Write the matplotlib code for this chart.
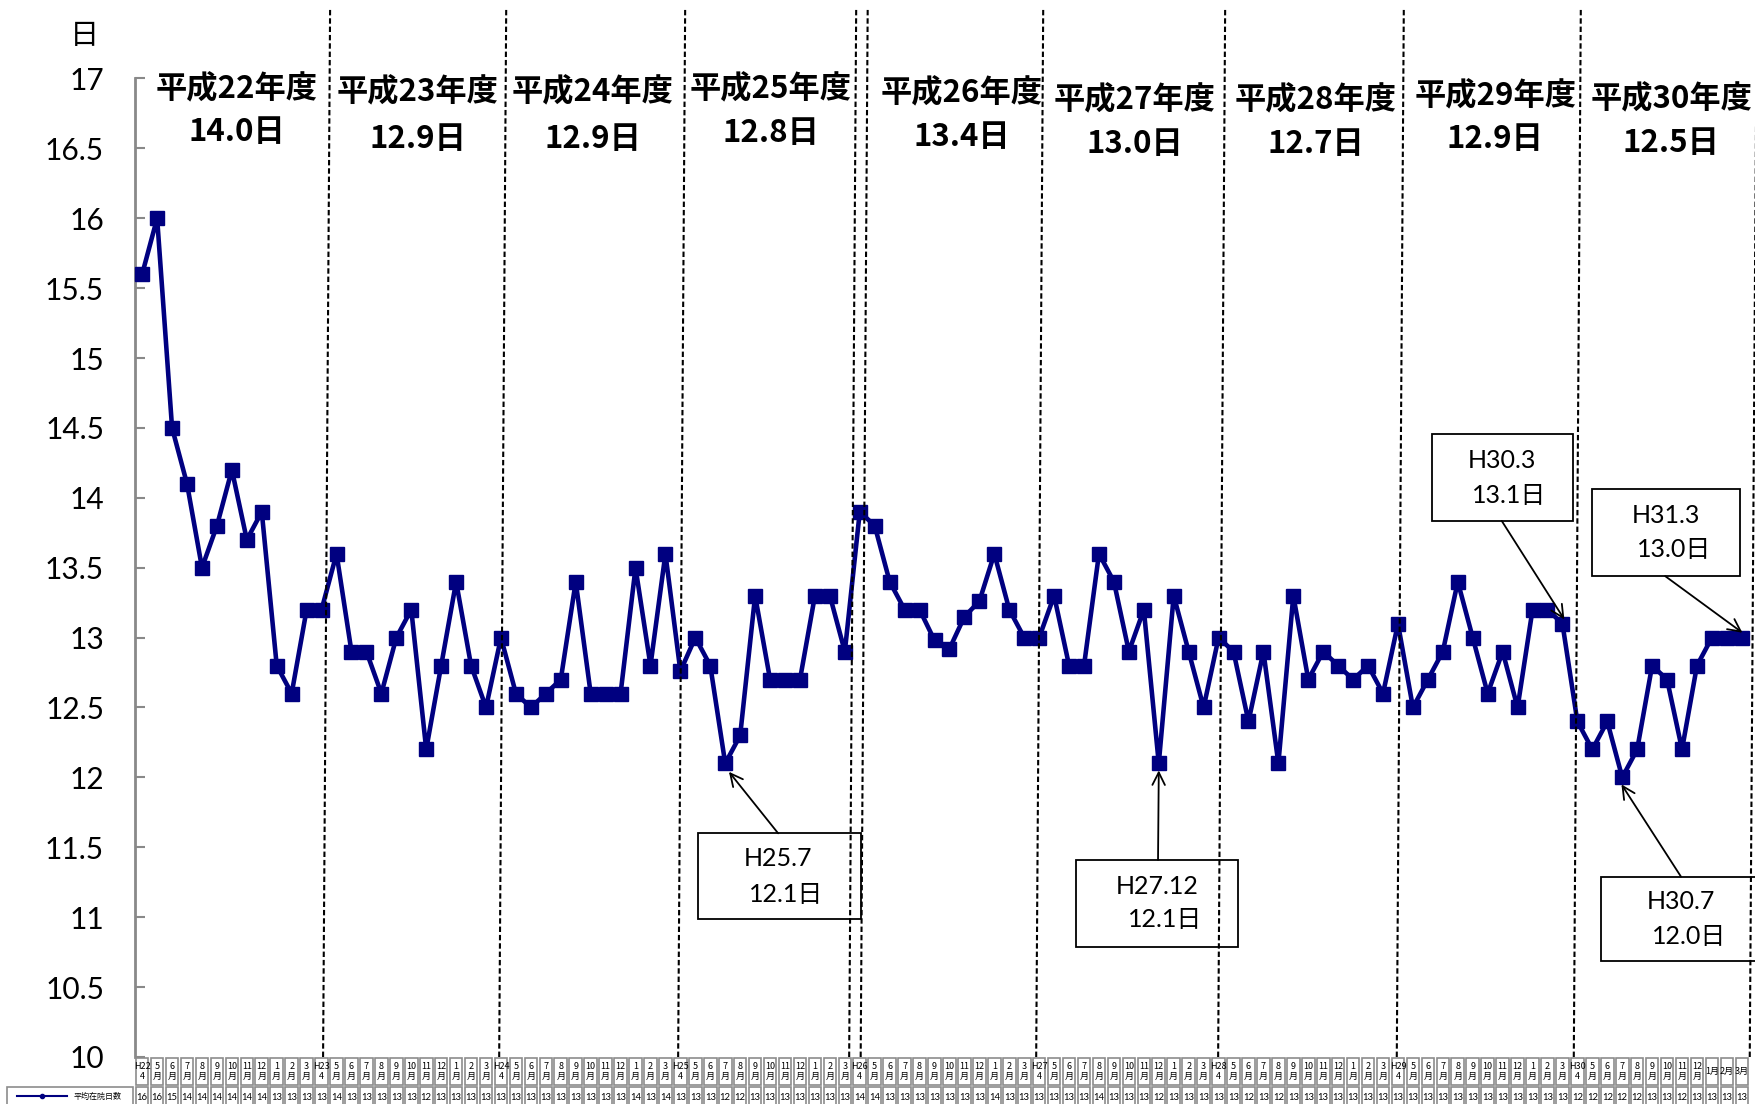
import matplotlib
matplotlib.use("Agg")
import matplotlib.pyplot as plt
from matplotlib.patches import Rectangle
import numpy as np

# ---------------- data ----------------
fiscal_years = ["H22", "H23", "H24", "H25", "H26", "H27", "H28", "H29", "H30"]
fy_titles = ["平成22年度", "平成23年度", "平成24年度", "平成25年度", "平成26年度",
             "平成27年度", "平成28年度", "平成29年度", "平成30年度"]
fy_average = [14.0, 12.9, 12.9, 12.8, 13.4, 13.0, 12.7, 12.9, 12.5]

h22 = [15.6, 16.0, 14.5, 14.1, 13.5, 13.8, 14.2, 13.7, 13.9, 12.8, 12.6, 13.2]
h23 = [13.2, 13.6, 12.9, 12.9, 12.6, 13.0, 13.2, 12.2, 12.8, 13.4, 12.8, 12.5]
h24 = [13.0, 12.6, 12.5, 12.6, 12.7, 13.4, 12.6, 12.6, 12.6, 13.5, 12.8, 13.6]
h25 = [12.76, 13.0, 12.8, 12.1, 12.3, 13.3, 12.7, 12.7, 12.7, 13.3, 13.3, 12.9]
h26 = [13.9, 13.8, 13.4, 13.2, 13.2, 12.98, 12.92, 13.15, 13.26, 13.6, 13.2, 13.0]
h27 = [13.0, 13.3, 12.8, 12.8, 13.6, 13.4, 12.9, 13.2, 12.1, 13.3, 12.9, 12.5]
h28 = [13.0, 12.9, 12.4, 12.9, 12.1, 13.3, 12.7, 12.9, 12.8, 12.7, 12.8, 12.6]
h29 = [13.1, 12.5, 12.7, 12.9, 13.4, 13.0, 12.6, 12.9, 12.5, 13.2, 13.2, 13.1]
h30 = [12.4, 12.2, 12.4, 12.0, 12.2, 12.8, 12.7, 12.2, 12.8, 13.0, 13.0, 13.0]
monthly_values = h22 + h23 + h24 + h25 + h26 + h27 + h28 + h29 + h30

months_after_april = ["5", "6", "7", "8", "9", "10", "11", "12", "1", "2", "3"]
series_name = "平均在院日数"
unit_label = "日"

annotations = [  # (label line 1, label line 2, month index, value)
    ("H25.7", "12.1日", 39, 12.1),
    ("H27.12", "12.1日", 68, 12.1),
    ("H30.3", "13.1日", 95, 13.1),
    ("H31.3", "13.0日", 107, 13.0),
    ("H30.7", "12.0日", 99, 12.0),
]

# header labels for the table below the chart
header_labels = []
for k, fy in enumerate(fiscal_years):
    header_labels.append(fy + "\n4")
    for m in months_after_april:
        if k == len(fiscal_years) - 1 and m in ("1", "2", "3"):
            header_labels.append(m + "月")
        else:
            header_labels.append(m + "\n月")

# ---------------- layout ----------------
W_PX, H_PX = 1756, 1104
JP = ["Noto Sans CJK JP", "DejaVu Sans"]
NUM = ["Lato", "Noto Sans CJK JP", "DejaVu Sans"]
NAVY = "#000080"

fig = plt.figure(figsize=(W_PX / 100, H_PX / 100), dpi=100)
ax_left_px, ax_right_px = 134.7, 1749.3
ax_top_px, ax_bot_px = 78.4, 1057.0
L = ax_left_px / W_PX
Wd = (ax_right_px - ax_left_px) / W_PX
B = (H_PX - ax_bot_px) / H_PX
Ht = (ax_bot_px - ax_top_px) / H_PX
ax = fig.add_axes([L, B, Wd, Ht])

n = len(monthly_values)
x = np.arange(n)
ax.set_xlim(-0.5, n - 0.5)
ax.set_ylim(10, 17)

ax.plot(x, monthly_values, color=NAVY, lw=3.3, marker="s", ms=10.5,
        mfc=NAVY, mec=NAVY, zorder=4, clip_on=False)

yt = np.arange(10, 17.01, 0.5)
ax.set_yticks(yt)
ax.set_yticklabels([f"{v:g}" for v in yt], fontfamily=NUM)
ax.tick_params(axis="y", direction="in", length=7.5, width=1.5,
               color="#898989", labelsize=21.5, pad=22)
ax.set_xticks([])
for s in ("top", "right", "bottom"):
    ax.spines[s].set_visible(False)
ax.spines["left"].set_color("#898989")
ax.spines["left"].set_linewidth(2)

# fiscal-year boundary dashed lines (slightly slanted, as drawn shapes)
boundary_pos = [12.29, 24.07, 36.04, 47.48, 48.25, 59.99, 72.16, 84.11, 95.95, 107.72]
for bpos in boundary_pos:
    ax.plot([bpos - 0.19, bpos + 0.28], [10, 17.5], color="black", lw=1.5,
            dashes=(2.6, 1.4), clip_on=False, zorder=6)

# fiscal-year titles
title_x = [6.34, 18.45, 30.15, 42.06, 54.83, 66.4, 78.5, 90.5, 102.27]
title_y1 = [16.92, 16.90, 16.90, 16.92, 16.89, 16.84, 16.84, 16.87, 16.85]
title_y2 = [16.62, 16.57, 16.57, 16.61, 16.58, 16.53, 16.53, 16.57, 16.54]
for t, a, tx, y1, y2 in zip(fy_titles, fy_average, title_x, title_y1, title_y2):
    ax.text(tx, y1, t, ha="center", va="center", fontsize=22.5,
            fontweight="bold", fontfamily=JP, clip_on=False, zorder=7)
    ax.text(tx, y2, f"{a:.1f}日", ha="center", va="center", fontsize=22.5,
            fontweight="bold", fontfamily=JP, clip_on=False, zorder=7)

# annotation boxes: (x0, x1, v_bottom, v_top, text1 pos, text2 pos, arrow start, arrow tip offset)
box_geom = [
    (37.19, 48.07, 10.99, 11.60, (42.5, 11.42), (43.1, 11.16), (42.54, 11.60), (0.25, -0.06)),
    (62.46, 73.30, 10.79, 11.41, (67.9, 11.22), (68.4, 10.98), (67.95, 11.41), (0.0, -0.05)),
    (86.27, 95.70, 13.835, 14.457, (90.94, 14.27), (91.46, 14.02), (90.94, 13.835), (0.13, 0.03)),
    (97.00, 106.90, 13.44, 14.06, (101.95, 13.87), (102.46, 13.63), (101.87, 13.44), (0.04, 0.035)),
    (97.60, 108.30, 10.69, 11.29, (102.93, 11.11), (103.5, 10.86), (102.93, 11.29), (-0.05, -0.05)),
]
for (t1, t2, mi, mv), (x0, x1, vb, vt, p1, p2, ps, off) in zip(annotations, box_geom):
    ax.add_patch(Rectangle((x0, vb), x1 - x0, vt - vb, facecolor="white",
                           edgecolor="black", lw=1.3, clip_on=False, zorder=5))
    ax.text(*p1, t1, ha="center", va="center", fontsize=18, fontfamily=NUM,
            clip_on=False, zorder=8)
    ax.text(*p2, t2, ha="center", va="center", fontsize=18, fontfamily=NUM,
            clip_on=False, zorder=8)
    ax.annotate("", xy=(mi + off[0], mv + off[1]), xytext=ps,
                arrowprops=dict(arrowstyle="->,head_length=0.9,head_width=0.45",
                                color="black", lw=1.3, shrinkA=0, shrinkB=0),
                annotation_clip=False, zorder=8)

# unit label
fig.text(84 / W_PX, 1 - 36 / H_PX, unit_label, ha="center", va="center",
         fontsize=21, fontfamily=JP)

# ---------------- data table below the axes ----------------
tax = fig.add_axes([L, 0, Wd, B])
tax.set_xlim(-0.5, n - 0.5)
tax.set_ylim(0, H_PX - ax_bot_px)
tax.axis("off")
inset = 0.08
GRAY = "#8c8c8c"
for i in range(n):
    tax.add_patch(Rectangle((i - 0.5 + inset, 19.5), 1 - 2 * inset, 26.5,
                            facecolor="white", edgecolor=GRAY, lw=1.2, clip_on=False))
    tax.add_patch(Rectangle((i - 0.5 + inset, -12), 1 - 2 * inset, 29,
                            facecolor="white", edgecolor=GRAY, lw=1.2, clip_on=False))
    lab = header_labels[i]
    tax.text(i, 32.5, lab, ha="center", va="center", fontsize=6.5,
             fontfamily=JP, linespacing=1.05, clip_on=False)
    tax.text(i, 6.5, str(int(monthly_values[i] + 0.5)), ha="center", va="center",
             fontsize=6.8, fontfamily=NUM, clip_on=False)

# legend cell at the left of the value row
tax.add_patch(Rectangle((-9.05, -12), 8.45, 29, facecolor="white",
                        edgecolor=GRAY, lw=1.2, clip_on=False))
tax.plot([-8.4, -5.0], [8, 8], color=NAVY, lw=1.5, clip_on=False)
tax.plot([-6.7], [8], color=NAVY, marker="o", ms=3, clip_on=False)
tax.text(-4.6, 8, series_name, ha="left", va="center", fontsize=5.8,
         fontfamily=JP, clip_on=False)

fig.savefig("out.png", dpi=100)
